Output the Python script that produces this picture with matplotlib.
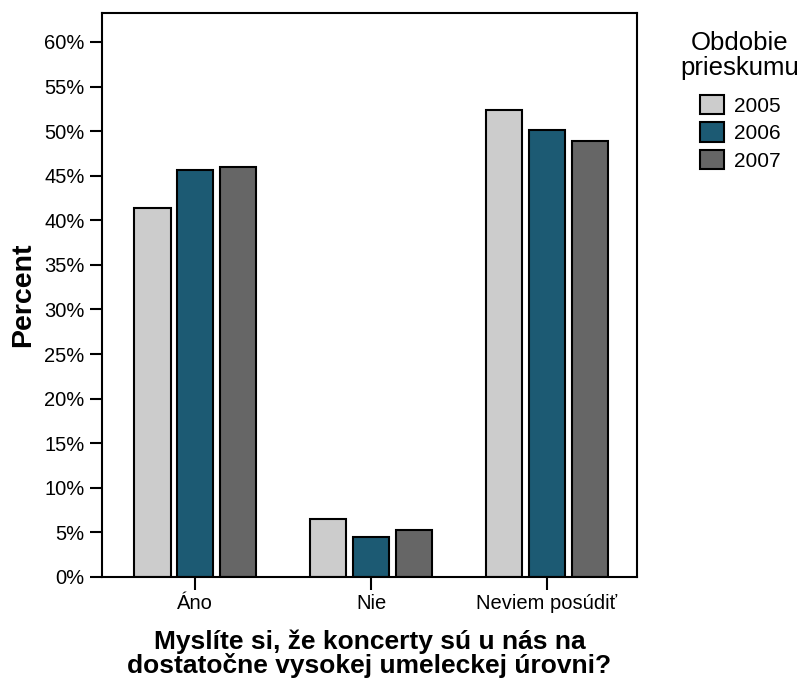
import numpy as np
import matplotlib
matplotlib.use("Agg")
import matplotlib.pyplot as plt
from matplotlib.ticker import FuncFormatter

plt.rcParams['font.family'] = ['Liberation Sans', 'DejaVu Sans']

# survey answers and percentages per survey year
categories = ["Áno", "Nie", "Neviem posúdiť"]
years = ["2005", "2006", "2007"]
pct_2005 = [41.4, 6.5, 52.4]
pct_2006 = [45.6, 4.5, 50.1]
pct_2007 = [46.0, 5.3, 48.9]
series = [pct_2005, pct_2006, pct_2007]
colors = ["#cccccc", "#1c5a73", "#666666"]

fig = plt.figure(figsize=(8.03, 6.82), dpi=100)
ax = fig.add_axes([0.127, 0.154, 0.666, 0.827])

x = np.arange(len(categories))
width = 0.205
step = 0.243
for i, (vals, col, yr) in enumerate(zip(series, colors, years)):
    ax.bar(x + (i - 1) * step, vals, width, color=col, edgecolor="black",
           linewidth=1.5, label=yr)

ax.set_xlim(-0.53, 2.51)
ax.set_ylim(0, 63.25)
ax.set_yticks(np.arange(0, 61, 5))
ax.yaxis.set_major_formatter(FuncFormatter(lambda v, p: f"{v:.0f}%"))
ax.set_xticks(x)
ax.set_xticklabels(categories)
ax.tick_params(axis="both", direction="out", length=9, width=1.5, labelsize=14.5)
for s in ax.spines.values():
    s.set_linewidth(1.5)

ax.set_ylabel("Percent", fontsize=20.5, fontweight="bold", labelpad=6)
ax.set_xlabel("Myslíte si, že koncerty sú u nás na\ndostatočne vysokej umeleckej úrovni?",
              fontsize=19, fontweight="bold", labelpad=12, linespacing=0.92)

# legend title drawn separately so the gap to the entries matches
fig.text(0.921, 0.955, "Obdobie\nprieskumu", ha="center", va="top",
         fontsize=18.5, linespacing=1.05)
leg = ax.legend(loc="upper left", bbox_to_anchor=(1.119, 0.855), frameon=False,
                fontsize=15, handlelength=1.15, handleheight=1.05,
                handletextpad=0.45, labelspacing=0.33, borderpad=0,
                borderaxespad=0)

fig.savefig("out.png", dpi=100)
